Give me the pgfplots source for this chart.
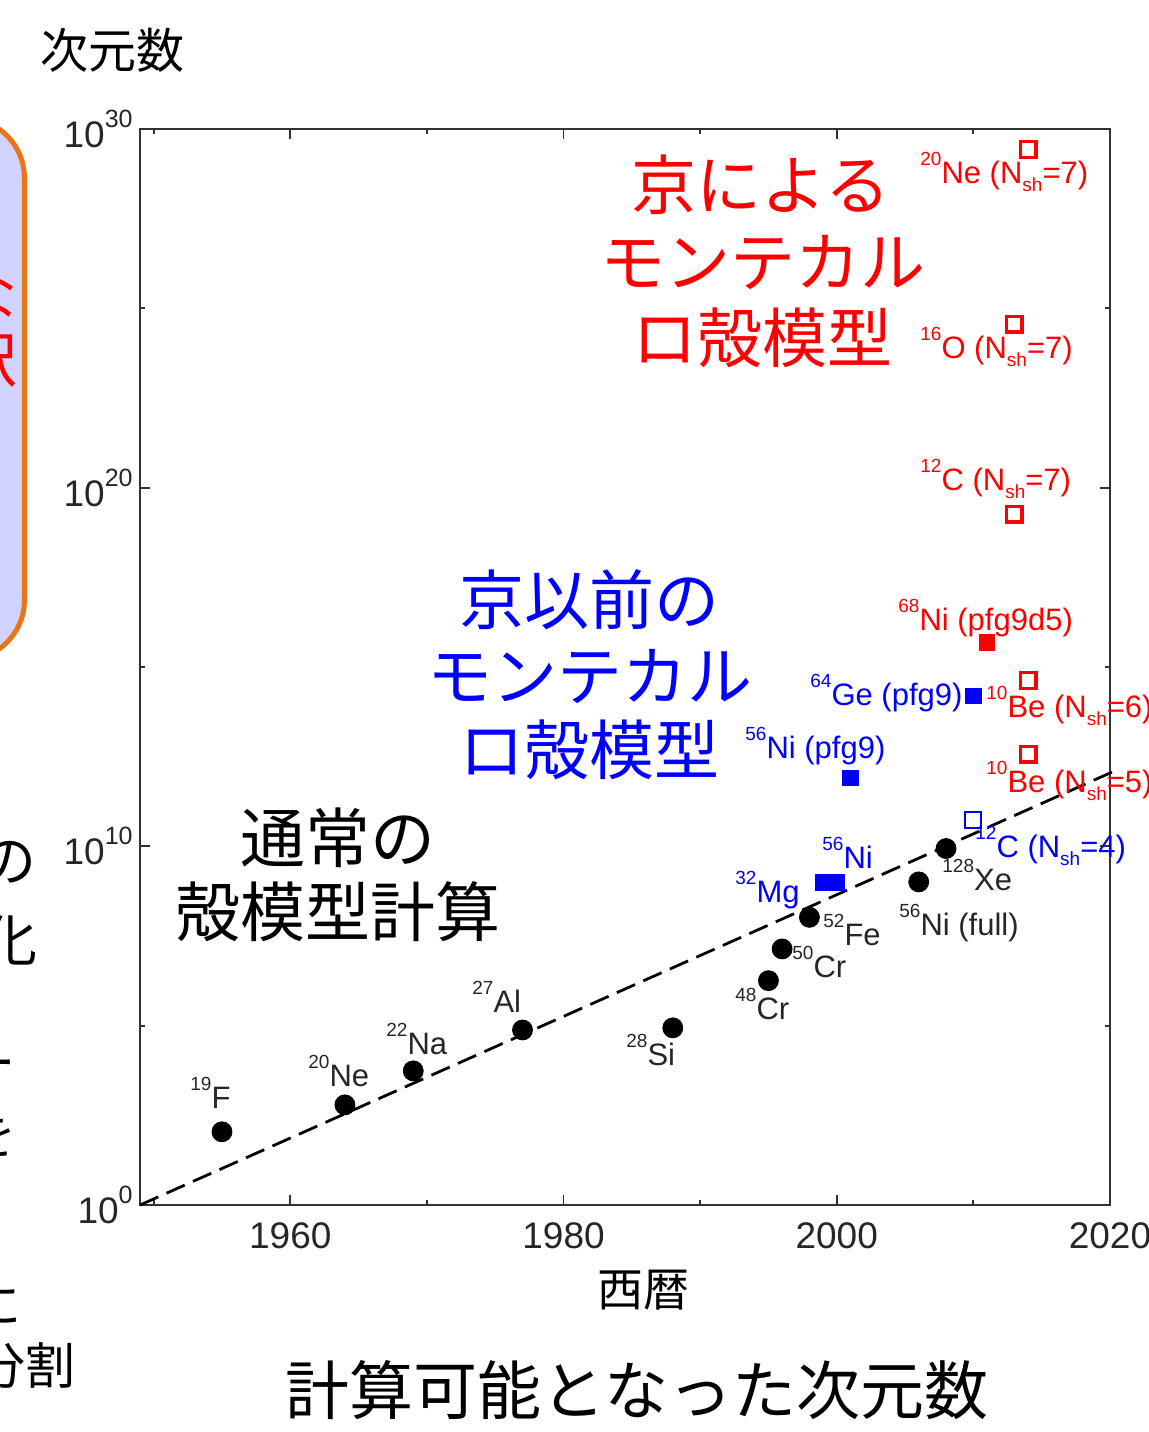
\documentclass[border=0pt]{standalone}
\usepackage{fontspec}
\setmainfont{Liberation Sans}
\newfontfamily\jp{Noto Sans CJK JP}
\usepackage{pgfplots}
\pgfplotsset{compat=1.18}
\definecolor{boxorange}{RGB}{232,118,22}
\definecolor{boxfill}{RGB}{210,210,255}
\definecolor{axgray}{RGB}{50,50,50}
\newcommand\sz[1]{\fontsize{#1}{#1}\selectfont}
\newcommand\tpow[1]{10\raisebox{10pt}{\sz{12.5}#1}}
\newcommand\iso[2]{\raisebox{9pt}{\sz{9.5}#1}#2}
\newcommand\nsh{N\raisebox{-4.2pt}{\sz{9.5}sh}}
\begin{document}
\begin{tikzpicture}
\useasboundingbox (0pt,0pt) rectangle (574pt,-716pt);
\clip (0pt,0pt) rectangle (574pt,-716pt);
\begin{scope}[x=0.5pt,y=-0.5pt]
% partial slide elements at left
\draw[draw=boxorange, line width=2.5pt, fill=boxfill, rounded corners=30pt] (-300,118) rectangle (24.5,660);
\node[anchor=east, inner sep=0pt, text=red, font=\jp\sz{30}] at (18,296) {な};
\node[anchor=east, inner sep=0pt, text=red, font=\jp\sz{30}] at (18,361) {訳};
\node[anchor=east, inner sep=0pt, font=\jp\sz{28}] at (37,862) {の};
\node[anchor=east, inner sep=0pt, font=\jp\sz{28}] at (38,941) {化};
\node[anchor=east, inner sep=0pt, font=\jp\sz{25}] at (16,1071) {ー};
\node[anchor=east, inner sep=0pt, font=\jp\sz{25}] at (17,1136) {を};
\node[anchor=east, inner sep=0pt, font=\jp\sz{25}] at (22,1305) {に};
\node[anchor=east, inner sep=0pt, font=\jp\sz{25}] at (76,1366) {分割};
% titles
\node[font=\jp\sz{24}] at (112,50) {次元数};
\node[font=\jp\sz{23}] at (643,1290) {西暦};
\node[font=\jp\sz{32}] at (637,1390) {計算可能となった次元数};
\end{scope}
\begin{axis}[at={(70pt,-602.5pt)}, anchor=south west, scale only axis,
  width=485pt, height=538pt,
  xmin=1949, xmax=2020, ymin=1, ymax=1e30, ymode=log,
  xtick={1960,1980,2000,2020}, minor xtick={1950,1970,1990,2010},
  xticklabels={1960,1980,2000,2020},
  ytick={1,1e10,1e20,1e30}, minor ytick={1e5,1e15,1e25},
  yticklabels={\tpow{0},\tpow{10},\tpow{20},\tpow{30}},
  tick align=inside, major tick length=5pt, minor tick length=2.5pt,
  tick style={axgray, line width=0.9pt},
  axis line style={axgray, line width=1.3pt},
  ticklabel style={font=\sz{18.5}, text=black!85, inner sep=0pt},
  xticklabel style={yshift=-8.5pt},
  yticklabel style={xshift=-3.5pt},
  clip=false]
\addplot[black, line width=1.4pt, dash pattern=on 10pt off 4.5pt] coordinates {(1949,1) (2020.6,1.4e12)};
\addplot[only marks, mark=*, mark size=5pt, black] coordinates {
 (1955,1.1e2) (1964,6.2e2) (1969,5.5e3) (1977,7.6e4) (1988,8.7e4)
 (1995,1.8e6) (1996,1.38e7) (1998,1.05e8) (2006,1.02e9) (2008,8.7e9)};
\addplot[only marks, mark=square*, mark size=3.9pt, blue, mark options={fill=blue, draw=blue}] coordinates {
 (1999,1e9) (2000,1e9) (2001,8.1e11) (2010,1.55e14)};
\addplot[only marks, mark=square, mark size=4pt, blue, mark options={line width=1pt}] coordinates {(2010,5.4e10)};
\addplot[only marks, mark=square*, mark size=3.9pt, red, mark options={fill=red, draw=red}] coordinates {(2011,4.8e15)};
\addplot[only marks, mark=square, mark size=3.9pt, red, mark options={line width=1.7pt}] coordinates {
 (2014,2.7e29) (2013,3.6e24) (2013,1.8e19) (2014,4.2e14) (2014,3.7e12)};
\end{axis}
\begin{scope}[x=0.5pt,y=-0.5pt]
% big annotations
\begin{scope}[every node/.style={inner sep=0pt, font=\jp\sz{32.5}}]
\node[text=red] at (761,185) {京による};
\node[text=red] at (763,262) {モンテカル};
\node[text=red] at (762,338) {ロ殻模型};
\node[text=blue] at (589,600) {京以前の};
\node[text=blue] at (590,676) {モンテカル};
\node[text=blue] at (589,750) {ロ殻模型};
\node at (338,838) {通常の};
\node at (338,912) {殻模型計算};
\end{scope}
% data labels
\begin{scope}[every node/.style={anchor=base west, inner sep=0pt, font=\sz{15.5}}]
\node[text=red] at (920,183) {\iso{20}{Ne} (\nsh=7)};
\node[text=red] at (920,358) {\iso{16}{O} (\nsh=7)};
\node[text=red] at (920,490) {\iso{12}{C} (\nsh=7)};
\node[text=red] at (898,630) {\iso{68}{Ni} (pfg9d5)};
\node[text=red] at (986,717) {\iso{10}{Be} (\nsh=6)};
\node[text=red] at (986,792) {\iso{10}{Be} (\nsh=5)};
\node[text=blue] at (810,705) {\iso{64}{Ge} (pfg9)};
\node[text=blue] at (745,758) {\iso{56}{Ni} (pfg9)};
\node[text=blue] at (975,857) {\iso{12}{C} (\nsh=4)};
\node[text=blue] at (822,868) {\iso{56}{Ni}};
\node[text=blue] at (735,902) {\iso{32}{Mg}};
\node[text=black!85] at (190,1108) {\iso{19}{F}};
\node[text=black!85] at (308,1086) {\iso{20}{Ne}};
\node[text=black!85] at (386,1054) {\iso{22}{Na}};
\node[text=black!85] at (472,1012) {\iso{27}{Al}};
\node[text=black!85] at (626,1065) {\iso{28}{Si}};
\node[text=black!85] at (735,1019) {\iso{48}{Cr}};
\node[text=black!85] at (792,977) {\iso{50}{Cr}};
\node[text=black!85] at (823,945) {\iso{52}{Fe}};
\node[text=black!85] at (899,935) {\iso{56}{Ni} (full)};
\node[text=black!85] at (942,890) {\iso{128}{Xe}};
\end{scope}
\end{scope}
\end{tikzpicture}
\end{document}
